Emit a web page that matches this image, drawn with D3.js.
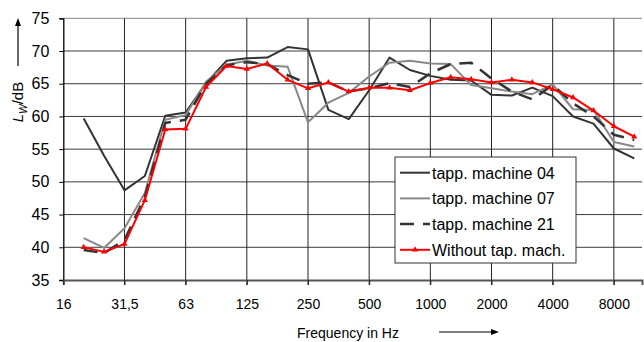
<!DOCTYPE html>
<html>
<head>
<meta charset="utf-8">
<script src="https://cdn.jsdelivr.net/npm/d3@7"></script>
<style>
body { margin:0; background:#fff; }
text { font-family: "Liberation Sans", Arial, sans-serif; fill:#000; }
</style>
</head>
<body>
<div id="chart-area"></div>
<script>
// third-octave bands, index 0 = 16 Hz
var bands = ["16","20","25","31,5","40","50","63","80","100","125","160","200","250","315","400","500",
	"630","800","1000","1250","1600","2000","2500","3150","4000","5000","6300","8000","10000"];
var tickLabels = ["16","31,5","63","125","250","500","1000","2000","4000","8000"];
var yTicks = [35,40,45,50,55,60,65,70,75];

// values from 20 Hz to 10000 Hz
var mach04 = [59.7,54.0,48.7,50.9,60.1,60.6,65.1,68.5,68.9,69.0,70.6,70.25,61.0,59.6,64.0,69.0,67.1,66.2,65.6,65.5,63.3,63.2,64.4,63.1,60.0,58.9,55.1,53.6];
var mach07 = [41.4,39.9,42.9,48.3,59.5,60.2,65.3,67.9,68.5,67.8,67.6,59.1,62.1,63.6,66.1,68.2,68.5,68.1,68.0,64.8,64.3,63.8,63.4,64.9,61.1,61.0,56.1,55.4];
var mach21 = [39.6,39.1,41.1,47.7,59.0,59.5,65.0,67.8,68.3,68.0,66.3,65.0,65.2,63.8,64.3,65.1,64.5,66.6,68.0,68.2,65.8,63.8,62.6,64.8,62.0,60.0,57.2,56.4];
var without = [40.0,39.3,40.5,47.2,58.0,58.1,64.5,67.7,67.25,68.1,65.6,64.3,65.2,63.8,64.4,64.4,64.0,65.1,66.0,65.7,65.2,65.6,65.2,64.15,62.9,60.9,58.5,56.9];

var seriesNames = ["tapp. machine 04","tapp. machine 07","tapp. machine 21","Without tap. mach."];

var W = 644, H = 342;
var svg = d3.select("#chart-area").append("svg")
	.attr("width", W).attr("height", H);

//scales
var x = d3.scaleLinear().domain([0, 28.38]).range([63.3, 642]);
var y = d3.scaleLinear().domain([35, 75]).range([280, 18.3]);

//grid horizontal
svg.append("g").selectAll("line").data(yTicks.slice(1)).join("line")
	.attr("x1", x(0)).attr("x2", x(28.38))
	.attr("y1", d => y(d)).attr("y2", d => y(d))
	.attr("stroke", d => d == 75 ? "#888" : "#3a3a3a").attr("stroke-width", 1);

//grid vertical
svg.append("g").selectAll("line").data(tickLabels.slice(1)).join("line")
	.attr("x1", d => x(bands.indexOf(d))).attr("x2", d => x(bands.indexOf(d)))
	.attr("y1", y(75)).attr("y2", y(35) + 5)
	.attr("stroke", "#222").attr("stroke-width", 1);

//axes
var yAxisCall = d3.axisLeft(y).tickValues(yTicks).tickSize(4).tickPadding(10);
var yAxis = svg.append("g").attr("transform", "translate(" + x(0) + ",0)").call(yAxisCall);
yAxis.select(".domain").attr("stroke", "#000").attr("stroke-width", 1.3);
yAxis.selectAll(".tick line").attr("stroke", "#000");
yAxis.selectAll(".tick text").style("font-size", "16px").style("font-family", "Liberation Sans, Arial, sans-serif");

var xAxisCall = d3.axisBottom(x)
	.tickValues(tickLabels.map(d => bands.indexOf(d)))
	.tickFormat(i => bands[i]).tickSize(5).tickPadding(14);
var xAxis = svg.append("g").attr("transform", "translate(0," + y(35) + ")").call(xAxisCall);
xAxis.select(".domain").attr("stroke", "#555").attr("stroke-width", 2);
xAxis.selectAll(".tick line").attr("stroke", "#222");
xAxis.selectAll(".tick text").style("font-size", "14px").style("font-family", "Liberation Sans, Arial, sans-serif");

//axis titles
svg.append("text").attr("x", 348).attr("y", 338).attr("text-anchor", "middle")
	.style("font-size", "14px").text("Frequency in Hz");
svg.append("line").attr("x1", 439).attr("x2", 494).attr("y1", 332).attr("y2", 332)
	.attr("stroke", "#000").attr("stroke-width", 1.2);
svg.append("path").attr("d", "M499,332 L491,329 L491,335 Z").attr("fill", "#000");

var yt = svg.append("text").attr("transform", "translate(23,102) rotate(-90)")
	.attr("text-anchor", "middle").style("font-size", "15px");
yt.append("tspan").style("font-style", "italic").text("L");
yt.append("tspan").attr("dy", 4).style("font-size", "10px").style("font-style", "italic").text("W");
yt.append("tspan").attr("dy", -4).text("/dB");
svg.append("line").attr("x1", 18).attr("x2", 18).attr("y1", 66).attr("y2", 24)
	.attr("stroke", "#000").attr("stroke-width", 1.2);
svg.append("path").attr("d", "M18,18 L15,26 L21,26 Z").attr("fill", "#000");

//lines
var line = d3.line().x((d, i) => x(i + 1)).y(d => y(d));
var styles = [
	{data: mach04, color: "#333", width: 2, dash: null},
	{data: mach07, color: "#888", width: 2, dash: null},
	{data: mach21, color: "#333", width: 2.5, dash: "14,9"},
	{data: without, color: "#ff0000", width: 2, dash: null}
];
styles.forEach(s => {
	svg.append("path").attr("d", line(s.data))
		.attr("fill", "none").attr("stroke", s.color)
		.attr("stroke-width", s.width).attr("stroke-dasharray", s.dash)
		.attr("stroke-linejoin", "round");
});
var tri = d3.symbol().type(d3.symbolTriangle).size(16);
svg.append("g").selectAll("path").data(without).join("path")
	.attr("d", tri).attr("fill", "#ff0000")
	.attr("transform", (d, i) => "translate(" + x(i + 1) + "," + y(d) + ")");

//legend
var lg = svg.append("g").attr("transform", "translate(395,157)");
lg.append("rect").attr("width", 181).attr("height", 106)
	.attr("fill", "#fff").attr("stroke", "#333").attr("stroke-width", 1);
seriesNames.forEach((n, i) => {
	var yy = 15.7 + i * 25.7;
	lg.append("line").attr("x1", 5).attr("x2", 35).attr("y1", yy).attr("y2", yy)
		.attr("stroke", styles[i].color).attr("stroke-width", styles[i].width)
		.attr("stroke-dasharray", styles[i].dash);
	if (i == 3) lg.append("path").attr("d", tri).attr("fill", "#ff0000")
		.attr("transform", "translate(20," + yy + ")");
	lg.append("text").attr("x", 37).attr("y", yy + 6).style("font-size", "16px").text(n);
});
</script>
</body>
</html>
